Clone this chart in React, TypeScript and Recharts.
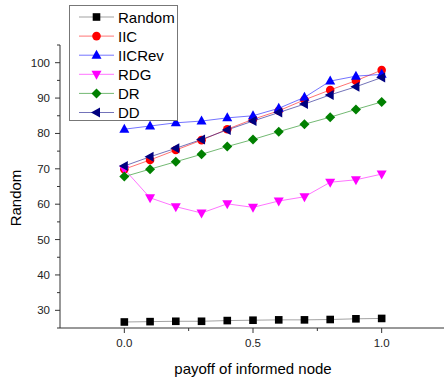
import React from 'react';
import { LineChart, Line, XAxis, YAxis, Legend } from 'recharts';

const payoff = [0, 0.1, 0.2, 0.3, 0.4, 0.5, 0.6, 0.7, 0.8, 0.9, 1.0];
const randomVals = [26.7, 26.8, 26.9, 26.9, 27.1, 27.2, 27.3, 27.3, 27.4, 27.6, 27.7];
const iicVals = [69.9, 72.5, 75.3, 78.1, 81.2, 84.0, 86.4, 89.5, 92.3, 94.9, 97.9];
const iicRevVals = [81.2, 82.1, 83.0, 83.5, 84.4, 85.0, 87.1, 90.2, 94.8, 96.2, 96.7];
const rdgVals = [69.9, 61.8, 59.3, 57.5, 60.1, 59.1, 60.9, 62.1, 66.2, 66.9, 68.5];
const drVals = [67.8, 69.9, 72.0, 74.1, 76.3, 78.3, 80.5, 82.6, 84.6, 86.8, 88.9];
const ddVals = [70.8, 73.4, 75.8, 78.3, 81.0, 83.5, 85.9, 88.3, 90.9, 93.2, 95.8];

const xTicks = [0, 0.25, 0.5, 0.75, 1];
const xMajor = [0, 0.5, 1];
const yTicks = [25, 30, 35, 40, 45, 50, 55, 60, 65, 70, 75, 80, 85, 90, 95, 100, 105];
const yMajor = [30, 40, 50, 60, 70, 80, 90, 100];

const data = payoff.map((p, i) => ({
  x: p,
  Random: randomVals[i],
  IIC: iicVals[i],
  IICRev: iicRevVals[i],
  RDG: rdgVals[i],
  DR: drVals[i],
  DD: ddVals[i],
}));

type Shape = 'square' | 'circle' | 'up' | 'down' | 'diamond' | 'left';

const series: { key: string; color: string; line: string; shape: Shape }[] = [
  { key: 'Random', color: '#000000', line: '#555555', shape: 'square' },
  { key: 'IIC', color: '#ff0000', line: '#ff0000', shape: 'circle' },
  { key: 'IICRev', color: '#0000ff', line: '#0000ff', shape: 'up' },
  { key: 'RDG', color: '#ff00ff', line: '#ff00ff', shape: 'down' },
  { key: 'DR', color: '#008000', line: '#008000', shape: 'diamond' },
  { key: 'DD', color: '#000080', line: '#000080', shape: 'left' },
];

const FONT = '"Liberation Sans", Arial, sans-serif';

function Marker({ shape, cx, cy, color }: { shape: Shape; cx: number; cy: number; color: string }) {
  switch (shape) {
    case 'square':
      return <rect x={cx - 3.8} y={cy - 3.8} width={7.6} height={7.6} fill={color} />;
    case 'circle':
      return <circle cx={cx} cy={cy} r={4.3} fill={color} />;
    case 'up':
      return <polygon points={`${cx},${cy - 5.5} ${cx + 5},${cy + 3.5} ${cx - 5},${cy + 3.5}`} fill={color} />;
    case 'down':
      return <polygon points={`${cx - 5},${cy - 3.5} ${cx + 5},${cy - 3.5} ${cx},${cy + 5.5}`} fill={color} />;
    case 'left':
      return <polygon points={`${cx - 5.5},${cy} ${cx + 3.5},${cy - 5} ${cx + 3.5},${cy + 5}`} fill={color} />;
    case 'diamond':
      return <polygon points={`${cx},${cy - 5} ${cx + 5},${cy} ${cx},${cy + 5} ${cx - 5},${cy}`} fill={color} />;
  }
  return null;
}

const XTick = (props: any) => {
  const { x, y, payload } = props;
  const major = xMajor.includes(payload.value);
  return (
    <g>
      <line x1={x} y1={y} x2={x} y2={y + (major ? 5 : 3)} stroke="#333" strokeWidth={1} />
      {major && (
        <text x={x} y={y + 15} textAnchor="middle" dominantBaseline="central" fontSize={11.5} fontFamily={FONT} fill="#222">
          {payload.value.toFixed(1)}
        </text>
      )}
    </g>
  );
};

const YTick = (props: any) => {
  const { x, y, payload } = props;
  const major = yMajor.includes(payload.value);
  return (
    <g>
      <line x1={x} y1={y} x2={x - (major ? 5 : 3)} y2={y} stroke="#333" strokeWidth={1} />
      {major && (
        <text x={x - 10} y={y} textAnchor="end" dominantBaseline="central" fontSize={11.5} fontFamily={FONT} fill="#222">
          {payload.value}
        </text>
      )}
    </g>
  );
};

const LegendBox = () => (
  <div style={{ width: 109, height: 116, border: '1px solid #777', background: '#fff', boxSizing: 'border-box' }}>
    <svg width={107} height={114}>
      {series.map((s, i) => {
        const cy = 11 + i * 19.1;
        return (
          <g key={s.key}>
            <line x1={9} y1={cy} x2={44} y2={cy} stroke={s.line} strokeOpacity={0.55} strokeWidth={1} />
            <Marker shape={s.shape} cx={26.5} cy={cy} color={s.color} />
            <text x={48} y={cy} dominantBaseline="central" fontSize={15} fontFamily={FONT} fill="#000">
              {s.key}
            </text>
          </g>
        );
      })}
    </svg>
  </div>
);

export default function App() {
  return (
    <div style={{ position: 'absolute', left: 0, top: 0, width: 444, height: 378, overflow: 'hidden', background: '#fff' }}>
      <LineChart width={450} height={378} data={data} margin={{ top: 45, right: 4, bottom: 0, left: 0 }}>
        <XAxis
          dataKey="x"
          type="number"
          domain={[-0.25, 1.25]}
          ticks={xTicks}
          interval={0}
          height={50}
          tickSize={0}
          tickMargin={0}
          tickLine={false}
          tick={<XTick />}
          axisLine={{ stroke: '#333', strokeWidth: 1 }}
          label={{
            content: (p: any) => {
              const vb = p.viewBox;
              return (
                <text x={vb.x + vb.width / 2} y={vb.y + 40} textAnchor="middle" dominantBaseline="central" fontSize={15} fontFamily={FONT} fill="#000">
                  payoff of informed node
                </text>
              );
            },
          }}
        />
        <YAxis
          type="number"
          domain={[25, 105]}
          ticks={yTicks}
          interval={0}
          width={60}
          tickSize={0}
          tickMargin={0}
          tickLine={false}
          tick={<YTick />}
          axisLine={{ stroke: '#333', strokeWidth: 1 }}
          label={{
            content: (p: any) => {
              const vb = p.viewBox;
              const lx = vb.x + 15;
              const ly = vb.y + vb.height / 2 + 11.5;
              return (
                <text x={lx} y={ly} transform={`rotate(-90, ${lx}, ${ly})`} textAnchor="middle" dominantBaseline="central" fontSize={15} fontFamily={FONT} fill="#000">
                  Random
                </text>
              );
            },
          }}
        />
        <Legend
          layout="vertical"
          verticalAlign="middle"
          align="center"
          content={<LegendBox />}
          wrapperStyle={{ left: 69, top: 5, width: 109, height: 116 }}
        />
        {series.map((s) => (
          <Line
            key={s.key}
            type="linear"
            dataKey={s.key}
            stroke={s.line}
            strokeOpacity={0.55}
            strokeWidth={1}
            isAnimationActive={false}
            activeDot={false}
            dot={(props: any) => (
              <Marker key={`${s.key}-${props.index}`} shape={s.shape} cx={props.cx} cy={props.cy} color={s.color} />
            )}
          />
        ))}
      </LineChart>
    </div>
  );
}
